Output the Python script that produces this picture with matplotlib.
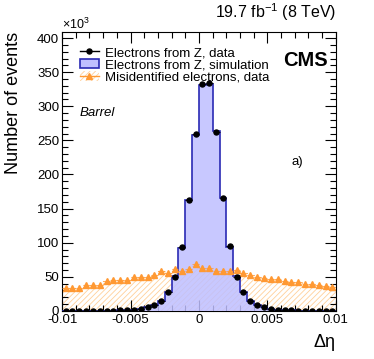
import numpy as np
import matplotlib
matplotlib.use('Agg')
import matplotlib.pyplot as plt
from matplotlib.ticker import MultipleLocator
from matplotlib.patches import Patch
from matplotlib.lines import Line2D

# 40 bins of delta eta between -0.01 and 0.01, counts in units of 10^3
bin_edges = np.linspace(-0.01, 0.01, 41)
bin_centers = 0.5 * (bin_edges[:-1] + bin_edges[1:])

z_data = [0.3, 0.3, 0.3, 0.3, 0.3, 0.4, 0.4, 0.5, 0.6, 0.8,
          1.5, 3, 5, 8, 15, 27, 50, 93, 162, 260,
          333, 334, 262, 165, 95, 50, 28, 15, 9, 5,
          3, 1.5, 0.8, 0.6, 0.5, 0.4, 0.4, 0.3, 0.3, 0.3]
z_sim = [0.3, 0.3, 0.3, 0.3, 0.3, 0.4, 0.4, 0.5, 0.6, 0.8,
         1.5, 3, 5, 8, 15, 27, 51, 92, 162, 258,
         331, 333, 264, 166, 94, 51, 28, 15, 9, 5,
         3, 1.5, 0.8, 0.6, 0.5, 0.4, 0.4, 0.3, 0.3, 0.3]
misid_data = [34, 34, 34, 38, 38, 38, 44, 45, 45, 45,
              49, 49, 49, 53, 59, 55, 62, 59, 62, 69,
              63, 63, 59, 59, 58, 60, 56, 52, 50, 48,
              47, 47, 44, 42, 42, 40, 39, 38, 36, 35]

plt.rcParams['font.family'] = ['Liberation Sans', 'DejaVu Sans']
plt.rcParams['mathtext.fontset'] = 'custom'
plt.rcParams['mathtext.rm'] = 'Liberation Sans'
plt.rcParams['mathtext.it'] = 'Liberation Sans:italic'
plt.rcParams['hatch.linewidth'] = 0.6

fig = plt.figure(figsize=(3.74, 3.59), dpi=100)
ax = fig.add_axes([0.166, 0.134, 0.732, 0.777])

half = 0.5 * (bin_edges[1] - bin_edges[0])

# misidentified electrons: hatched histogram + triangles
ax.stairs(misid_data, bin_edges, fill=True, facecolor='none', edgecolor='#ffd09a',
          hatch='//////', linewidth=0, zorder=1)
ax.stairs(misid_data, bin_edges, color='#ffb060', linewidth=0.8, linestyle=':', zorder=2)

# simulation
ax.stairs(z_sim, bin_edges, fill=True, facecolor='#bfbfff', edgecolor='none', alpha=0.85, zorder=3)
ax.stairs(z_sim, bin_edges, color='#2a2ab4', linewidth=1.2, zorder=4)

ax.errorbar(bin_centers, misid_data, xerr=half, fmt='^', color='#ff9933', markersize=4,
            elinewidth=0.5, linestyle='none', zorder=5)
ax.errorbar(bin_centers, z_data, xerr=half, fmt='o', color='black', markersize=3.6,
            elinewidth=0.6, linestyle='none', zorder=6)

ax.set_xlim(-0.01, 0.01)
ax.set_ylim(0, 409)
ax.xaxis.set_minor_locator(MultipleLocator(0.001))
ax.yaxis.set_major_locator(MultipleLocator(50))
ax.yaxis.set_minor_locator(MultipleLocator(10))
ax.set_xticks([-0.01, -0.005, 0, 0.005, 0.01])
ax.set_xticklabels(['-0.01', '-0.005', '0', '0.005', '0.01'])
ax.tick_params(which='both', direction='in', top=True, right=True, labelsize=9.5, pad=2)
ax.tick_params(which='major', length=8, width=0.8)
ax.tick_params(which='minor', length=4, width=0.8)

ax.set_ylabel('Number of events', fontsize=13, loc='top', labelpad=11)
ax.set_xlabel('Δη', fontsize=13, loc='right', labelpad=6)

fig.text(0.166, 0.912, r'$\times10^{3}$', fontsize=9, ha='left', va='bottom')
fig.text(0.898, 0.935, r'19.7 fb$^{-1}$ (8 TeV)', fontsize=11.5, ha='right', va='bottom')
ax.text(0.97, 0.93, 'CMS', transform=ax.transAxes, fontsize=14.5, fontweight='bold',
        ha='right', va='top')
ax.text(0.065, 0.71, 'Barrel', transform=ax.transAxes, fontsize=9.5, style='italic',
        ha='left', va='center')
ax.text(0.86, 0.535, 'a)', transform=ax.transAxes, fontsize=9.5, ha='center', va='center')

handles = [
    Line2D([], [], color='black', marker='o', markersize=3.6, linewidth=1),
    Patch(facecolor='#bfbfff', edgecolor='#2a2ab4', linewidth=1.2),
    (Patch(facecolor='none', edgecolor='#ffd09a', hatch='//////', linewidth=0),
     Line2D([], [], color='#ff9933', marker='^', markersize=4, linewidth=1)),
]
labels = ['Electrons from Z, data', 'Electrons from Z, simulation',
          'Misidentified electrons, data']
ax.legend(handles, labels, loc='upper left', bbox_to_anchor=(0.035, 0.975), frameon=False,
          fontsize=9.5, handlelength=1.5, handletextpad=0.4, labelspacing=0.0,
          borderaxespad=0.2)

fig.savefig('out.png', dpi=100)
